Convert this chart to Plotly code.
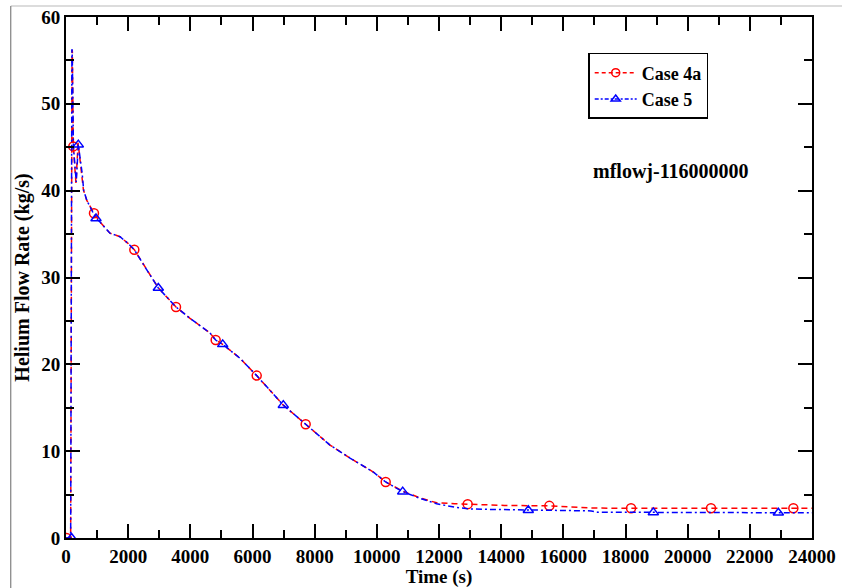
import plotly.graph_objects as go

# ---- data ----
t_case4a = [0, 150, 195, 205, 235, 320, 390, 505, 560, 665, 900, 1094, 1415, 1737, 2005, 2198,
            2595, 2970, 3539, 3990, 4633, 4815, 5041, 5598, 6135, 6991, 7711, 8493, 9137, 9887,
            10285, 10832, 11400, 11925, 12500, 12923, 14100, 15550, 16250, 16900, 18178, 20750,
            23400, 24000]
v_case4a = [0, 0, 56.2, 56.0, 45.1, 40.9, 45.5, 42.2, 40.1, 38.9, 37.4, 36.4, 35.1, 34.7, 33.9, 33.2,
            30.9, 28.8, 26.6, 25.3, 23.6, 22.8, 22.3, 20.7, 18.7, 15.3, 13.1, 10.7, 9.2, 7.6,
            6.45, 5.4, 4.6, 4.05, 3.95, 3.9, 3.75, 3.7, 3.6, 3.45, 3.42, 3.42,
            3.42, 3.42]

t_case5 = [0, 150, 190, 200, 240, 330, 396, 520, 570, 680, 965, 1094, 1415, 1737, 2005, 2198,
           2595, 2970, 3539, 3990, 4633, 4815, 5041, 5598, 6135, 6991, 7711, 8493, 9137, 9887,
           10285, 10832, 11400, 11925, 12500, 13000, 13500, 14873, 16900, 17100, 18895, 22917,
           24000]
v_case5 = [0, 0, 56.3, 56.0, 45.0, 41.0, 45.3, 42.0, 40.0, 38.8, 36.8, 36.4, 35.1, 34.7, 33.9, 33.2,
           30.9, 28.8, 26.6, 25.3, 23.6, 22.8, 22.3, 20.7, 18.7, 15.3, 13.1, 10.7, 9.2, 7.6,
           6.45, 5.34, 4.55, 3.95, 3.55, 3.35, 3.3, 3.2, 3.12, 2.97, 2.95, 2.9,
           2.9]

# marker positions (sparse symbols)
m_t_case4a = [20, 235, 900, 2198, 3539, 4815, 6135, 7711, 10285, 12923, 15550, 18178, 20750, 23400]
m_v_case4a = [0, 45.1, 37.4, 33.2, 26.6, 22.8, 18.7, 13.1, 6.45, 3.9, 3.7, 3.42, 3.42, 3.42]
m_t_case5 = [180, 396, 965, 2970, 5041, 6991, 10832, 14873, 18895, 22917]
m_v_case5 = [0, 45.3, 36.8, 28.8, 22.3, 15.3, 5.34, 3.2, 2.95, 2.9]

x_tickvals = list(range(0, 24001, 2000))
y_tickvals = list(range(0, 61, 10))

RED = "#ff0000"
BLUE = "#0000ff"
FAM = "Liberation Serif, Times New Roman, serif"
FONT = dict(family=FAM, size=20, color="black", weight=700)
XTITLEFONT = dict(family=FAM, size=19, color="black", weight=700)
TICKFONT = dict(family=FAM, size=19, color="black", weight=700)
LEGFONT = dict(family=FAM, size=18, color="black", weight=700)

fig = go.Figure()

# Case 4a
fig.add_trace(go.Scatter(x=t_case4a, y=v_case4a, mode="lines", showlegend=False,
                         line=dict(color=RED, width=1.5, dash="6px,4px")))
fig.add_trace(go.Scatter(x=m_t_case4a, y=m_v_case4a, mode="markers", showlegend=False,
                         marker=dict(symbol="circle-open", size=9, color=RED, line=dict(width=1.5, color=RED))))
# Case 5
fig.add_trace(go.Scatter(x=t_case5, y=v_case5, mode="lines", showlegend=False,
                         line=dict(color=BLUE, width=1.5, dash="6px,3px,2px,3px")))
fig.add_trace(go.Scatter(x=m_t_case5, y=m_v_case5, mode="markers", showlegend=False,
                         marker=dict(symbol="triangle-up-open", size=9, color=BLUE, line=dict(width=1.5, color=BLUE))))

# legend entries
fig.add_trace(go.Scatter(x=[None], y=[None], mode="lines+markers", name="Case 4a",
                         line=dict(color=RED, width=1.5, dash="4px,3px"),
                         marker=dict(symbol="circle-open", size=8, color=RED, line=dict(width=1.5, color=RED))))
fig.add_trace(go.Scatter(x=[None], y=[None], mode="lines+markers", name="Case 5",
                         line=dict(color=BLUE, width=1.5, dash="4px,2px,2px,2px"),
                         marker=dict(symbol="triangle-up-open", size=8, color=BLUE, line=dict(width=1.5, color=BLUE))))

axis_common = dict(showline=True, linecolor="black", linewidth=2, mirror="allticks",
                   ticks="inside", ticklen=14, tickwidth=1.5, tickcolor="black",
                   showgrid=False, zeroline=False, tickfont=TICKFONT, automargin=False)

fig.update_xaxes(range=[0, 24000], tickvals=x_tickvals, tickformat="d",
                 minor=dict(dtick=1000, tick0=0, ticks="inside", ticklen=8, tickwidth=1.5, tickcolor="black"),
                 title=dict(text="Time (s)", font=XTITLEFONT, standoff=5), **axis_common)
fig.update_yaxes(range=[0, 60], tickvals=y_tickvals, tickformat="d",
                 minor=dict(dtick=5, tick0=0, ticks="inside", ticklen=8, tickwidth=1.5, tickcolor="black"),
                 title=dict(text="Helium Flow Rate (kg/s)", font=FONT, standoff=6), **axis_common)

fig.add_annotation(text="mflowj-116000000", x=0.811, y=0.703, xref="paper", yref="paper",
                   xanchor="center", yanchor="middle", showarrow=False, font=FONT)

# thin frame lines of the original image
fig.add_shape(type="line", xref="paper", yref="paper", x0=-0.074, x1=1.05, y0=1.021, y1=1.021,
              line=dict(color="#d0d0d0", width=1.5))
fig.add_shape(type="line", xref="paper", yref="paper", x0=-0.074, x1=-0.074, y0=1.021, y1=-0.1,
              line=dict(color="#666666", width=1))

fig.update_layout(
    width=842, height=588,
    margin=dict(l=66, r=30, t=17, b=50, autoexpand=False),
    paper_bgcolor="white", plot_bgcolor="white",
    font=FONT,
    legend=dict(x=0.70, y=0.931, xanchor="left", yanchor="top",
                bordercolor="black", borderwidth=1.5, bgcolor="white",
                font=LEGFONT, itemwidth=42, tracegroupgap=0),
)

fig.write_html("out.html", config={"displayModeBar": False},
               post_script="document.body.style.margin='0';document.body.style.overflow='hidden';")
